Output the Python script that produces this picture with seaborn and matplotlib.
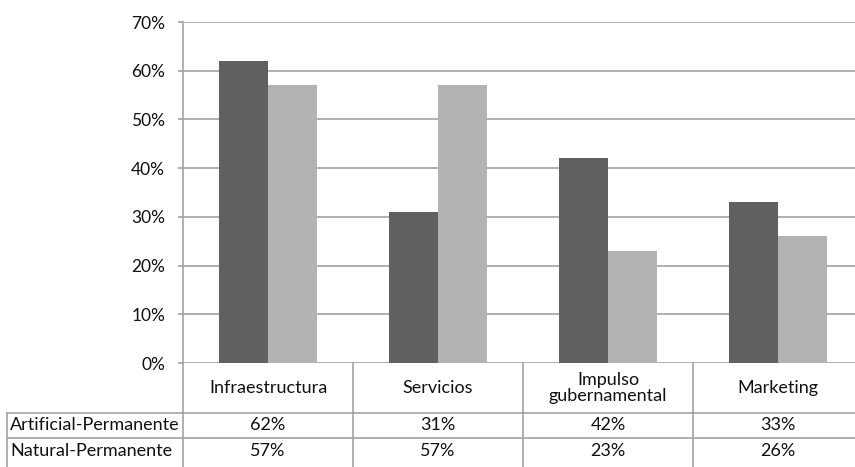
import numpy as np
import pandas as pd
import matplotlib
matplotlib.use("Agg")
import matplotlib.pyplot as plt
import seaborn as sns

categorias = ["Infraestructura", "Servicios", "Impulso\ngubernamental", "Marketing"]
series = ["Artificial-Permanente", "Natural-Permanente"]
artificial = [62, 31, 42, 33]
natural = [57, 57, 23, 26]
colores = ["#606060", "#b3b3b3"]

df = pd.DataFrame({
    "categoria": categorias * 2,
    "serie": [series[0]] * len(categorias) + [series[1]] * len(categorias),
    "valor": artificial + natural,
})

sns.set_style("white")
plt.rcParams["font.family"] = ["Lato", "DejaVu Sans"]

fig = plt.figure(figsize=(8.55, 4.67), dpi=100)
# el area del grafico sigue un poco mas alla del borde derecho
ax = fig.add_axes([183 / 855, 104 / 467, 680 / 855, 341 / 467])

sns.barplot(
    data=df,
    x="categoria",
    y="valor",
    hue="serie",
    hue_order=series,
    order=categorias,
    palette=colores,
    width=0.58,
    saturation=1,
    linewidth=0,
    legend=False,
    ax=ax,
    zorder=3,
)

gris = "#a3a3a3"
texto = "#111111"
n = len(categorias)
ax.set_xlim(-0.5, n - 0.5)
ax.set_ylim(0, 70)
ax.set_yticks(range(0, 71, 10))
ax.set_yticklabels([f"{v}%" for v in range(0, 71, 10)])
ax.set_axisbelow(True)
ax.yaxis.grid(True, color=gris, lw=1.2)
ax.tick_params(axis="x", bottom=False, labelbottom=False)
ax.tick_params(axis="y", left=True, length=3.8, width=1.2, color=gris, pad=9,
               labelsize=12.5, labelcolor=texto)
ax.set_xlabel("")
ax.set_ylabel("")
for lado in ["top", "right", "bottom"]:
    ax.spines[lado].set_visible(False)
ax.spines["left"].set_color(gris)
ax.spines["left"].set_linewidth(1.2)

# tabla de datos: x en unidades de categoria, y en fraccion del eje
tr = ax.get_xaxis_transform()
px_y = 1 / 341
y_cab = -50 * px_y
y_f1 = -75 * px_y
y_fin = -110 * px_y
x_etq = -0.5 - 176 / 170
linea = dict(color=gris, lw=1.2, transform=tr, clip_on=False)

for b in np.arange(-0.5, n, 1.0):
    ax.plot([b, b], [0, y_fin], **linea)
ax.plot([x_etq, x_etq], [y_cab, y_fin], **linea)
ax.plot([x_etq, n - 0.5], [y_cab, y_cab], **linea)
ax.plot([x_etq, n - 0.5], [y_f1, y_f1], **linea)

for j, cat in enumerate(categorias):
    ax.text(j, y_cab / 2, cat, transform=tr, ha="center", va="center",
            fontsize=13, color=texto, linespacing=1.05, clip_on=False)

valores = [artificial, natural]
centros = [(y_cab + y_f1) / 2, y_f1 - 12.5 * px_y]
for i, serie in enumerate(series):
    ax.text(x_etq + 0.02, centros[i], serie, transform=tr, ha="left", va="center",
            fontsize=13, color=texto, clip_on=False)
    for j in range(n):
        ax.text(j, centros[i], f"{valores[i][j]}%", transform=tr, ha="center",
                va="center", fontsize=13, color=texto, clip_on=False)

fig.savefig("out.png", dpi=100)
